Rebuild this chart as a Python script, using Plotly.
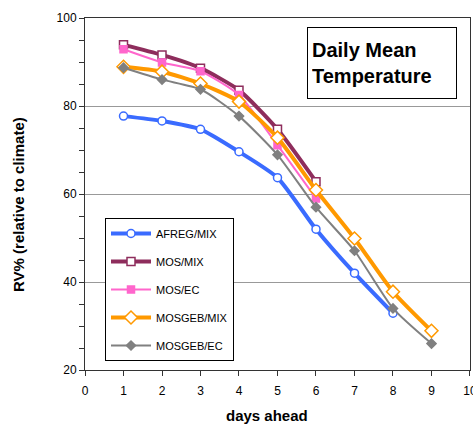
import plotly.graph_objects as go

days = [1, 2, 3, 4, 5, 6, 7, 8, 9]
afreg_mix = [77.7, 76.6, 74.7, 69.6, 63.7, 52.0, 42.0, 32.9]
mos_mix = [93.9, 91.6, 88.6, 83.6, 74.7, 62.8]
mos_ec = [92.9, 89.9, 87.9, 82.5, 71.1, 59.0]
mosgeb_mix = [88.9, 87.8, 85.1, 81.0, 72.8, 60.9, 49.9, 37.8, 28.9]
mosgeb_ec = [88.7, 86.0, 83.8, 77.7, 68.9, 57.0, 47.1, 34.0, 26.0]
x_ticks = [0, 1, 2, 3, 4, 5, 6, 7, 8, 9, 10]

series = [
    ("AFREG/MIX", afreg_mix, "#3A6BFF", 4, "circle", 8, "white"),
    ("MOS/MIX", mos_mix, "#8E2D5C", 4, "square", 8, "white"),
    ("MOS/EC", mos_ec, "#FF66CC", 2, "square", 7, "#FF66CC"),
    ("MOSGEB/MIX", mosgeb_mix, "#FF9900", 4, "diamond", 10, "white"),
    ("MOSGEB/EC", mosgeb_ec, "#808080", 2, "diamond", 7, "#808080"),
]

L, R, T, B = 85, 3, 18, 61
PW, PH = 473 - L - R, 431 - T - B

fig = go.Figure()
for i, (name, vals, col, lw, sym, ms, fill) in enumerate(series):
    fig.add_trace(go.Scatter(
        x=days[:len(vals)], y=vals, name=name, mode="lines+markers",
        line=dict(color=col, width=lw, shape="spline", smoothing=0.6),
        marker=dict(symbol=sym, size=ms, color=fill,
                    line=dict(color=col, width=1.5)),
        legendgroup=f"g{i}",
    ))

fig.add_annotation(
    xref="paper", yref="paper", x=(307 - L) / PW, y=(431 - B - 27) / PH,
    xanchor="left", yanchor="top",
    text="<b>Daily Mean<br>Temperature</b>", showarrow=False, align="left",
    font=dict(family="Liberation Sans", size=20, color="black"),
    bordercolor="black", borderwidth=1, borderpad=4, bgcolor="white",
    width=140, height=62,
)
fig.add_annotation(
    xref="paper", yref="paper", x=(267 - L) / PW, y=-(415 - 370) / PH,
    xanchor="center", yanchor="middle", showarrow=False,
    text="<b>days ahead</b>", font=dict(family="Liberation Sans", size=15, color="black"),
)
fig.add_annotation(
    xref="paper", yref="paper", x=-(L - 18) / PW, y=(370 - 205) / PH,
    xanchor="center", yanchor="middle", showarrow=False, textangle=-90,
    text="<b>RV% (relative to climate)</b>", font=dict(family="Liberation Sans", size=15, color="black"),
)

fig.update_layout(
    width=473, height=431,
    margin=dict(l=L, r=R, t=T, b=B),
    paper_bgcolor="white", plot_bgcolor="white",
    font=dict(family="Liberation Sans", size=12, color="black"),
    showlegend=True,
    legend=dict(x=(105 - L) / PW, y=(370 - 218) / PH, xanchor="left", yanchor="top",
                bordercolor="black", borderwidth=1, bgcolor="white",
                font=dict(size=11), traceorder="grouped", tracegroupgap=9,
                itemwidth=40),
    xaxis=dict(range=[0, 10.0005], tickvals=x_ticks, showgrid=False, zeroline=False,
               showline=True, linecolor="#333333", linewidth=1, mirror=True,
               ticks="outside", ticklen=5, tickcolor="#333333", ticklabelstandoff=5,
               ticklabeloverflow="allow", automargin=False),
    yaxis=dict(range=[20, 100], tickvals=[20, 40, 60, 80, 100],
               showgrid=True, gridcolor="#999999", gridwidth=1, zeroline=False,
               showline=True, linecolor="#333333", linewidth=1, mirror=True,
               ticks="outside", ticklen=5, tickcolor="#333333", automargin=False,
               minor=dict(dtick=5, ticks="outside", ticklen=5, tickcolor="#333333", showgrid=False)),
)

fig.write_html("out.html")
